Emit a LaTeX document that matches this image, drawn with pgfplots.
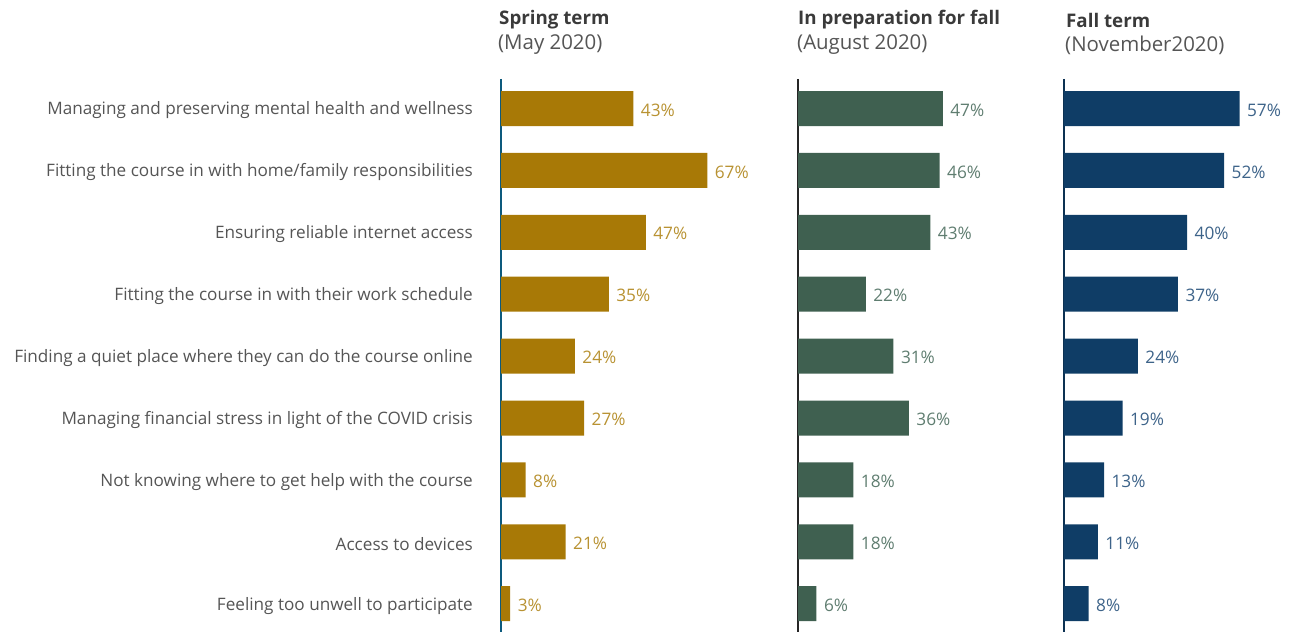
\documentclass[border=0pt]{standalone}
\usepackage{pgfplots}
\pgfplotsset{compat=1.18}
\usepackage{fontspec}
\setmainfont{Open Sans}
\definecolor{gold}{HTML}{A87906}
\definecolor{goldt}{HTML}{B89232}
\definecolor{green}{HTML}{3F6050}
\definecolor{greent}{HTML}{5F7D70}
\definecolor{navy}{HTML}{0F3D66}
\definecolor{navyt}{HTML}{3D6389}
\definecolor{lab}{HTML}{555555}
\definecolor{ttl}{HTML}{3A3A3A}
\pgfplotsset{
  /pgf/number format/assume math mode=true,
  panel/.style={
    scale only axis, width=230bp, height=553bp,
    xmin=0, xmax=74.675, ymin=-0.477, ymax=8.457, y dir=reverse,
    axis x line=none, axis y line=left,
    major tick length=0pt,
    xbar, bar shift=0pt, bar width=35bp,
    clip=false,
    point meta=x,
    nodes near coords={\pgfmathprintnumber{\pgfplotspointmeta}\%},
    every node near coord/.append style={font=\fontsize{17.3}{20}\selectfont, anchor=west, xshift=4bp, yshift=-1.5bp},
  },
}
\begin{document}
\begin{tikzpicture}[x=1bp,y=1bp]
\useasboundingbox (0,0) rectangle (1293,632);
% Panel 1
\begin{axis}[panel, at={(501bp,0bp)}, anchor=south west,
  axis line style={-, draw=navy!85!cyan, line width=2bp},
  ytick={0,...,8},
  yticklabels={Managing and preserving mental health and wellness,
    Fitting the course in with home/family responsibilities,
    Ensuring reliable internet access,
    Fitting the course in with their work schedule,
    Finding a quiet place where they can do the course online,
    Managing financial stress in light of the COVID crisis,
    Not knowing where to get help with the course,
    Access to devices,
    Feeling too unwell to participate},
  yticklabel style={font=\fontsize{17.2}{20}\selectfont, text=lab, anchor=east, inner sep=0pt, xshift=-28bp, yshift=-2bp},
  every node near coord/.append style={text=goldt}]
\addplot[fill=gold, draw=none] coordinates {(43,0) (67,1) (47,2) (35,3) (24,4) (27,5) (8,6) (21,7) (3,8)};
\end{axis}
% Panel 2
\begin{axis}[panel, at={(798bp,0bp)}, anchor=south west,
  axis line style={-, draw=black!85, line width=2bp},
  ytick=\empty,
  every node near coord/.append style={text=greent}]
\addplot[fill=green, draw=none] coordinates {(47,0) (46,1) (43,2) (22,3) (31,4) (36,5) (18,6) (18,7) (6,8)};
\end{axis}
% Panel 3
\begin{axis}[panel, at={(1064bp,0bp)}, anchor=south west,
  axis line style={-, draw=navy!80!black, line width=2bp},
  ytick=\empty,
  every node near coord/.append style={text=navyt}]
\addplot[fill=navy, draw=none] coordinates {(57,0) (52,1) (40,2) (37,3) (24,4) (19,5) (13,6) (11,7) (8,8)};
\end{axis}
% Titles
\begin{scope}[every node/.style={anchor=west, inner sep=0pt}]
\node[text=ttl, font=\fontsize{18.8}{22}\selectfont\bfseries] at (499,612) {Spring term};
\node[text=lab, font=\fontsize{20.5}{24}\selectfont] at (498,587) {(May 2020)};
\node[text=ttl, font=\fontsize{18.8}{22}\selectfont\bfseries] at (798,612) {In preparation for fall};
\node[text=lab, font=\fontsize{20.5}{24}\selectfont] at (797,587) {(August 2020)};
\node[text=ttl, font=\fontsize{18.8}{22}\selectfont\bfseries] at (1066,612) {Fall term};
\node[text=lab, font=\fontsize{20.5}{24}\selectfont] at (1065,587) {(November2020)};
\end{scope}
\end{tikzpicture}
\end{document}
